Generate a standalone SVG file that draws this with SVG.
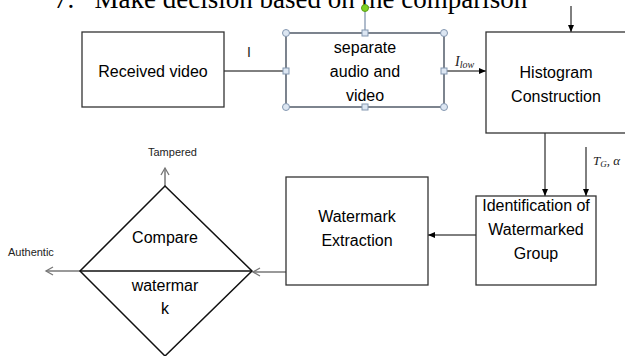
<svg xmlns="http://www.w3.org/2000/svg" width="625" height="356" viewBox="0 0 625 356">
<style>
.box{fill:#fff;stroke:#333;stroke-width:1.3}
.t{font-family:"Liberation Sans",Arial,sans-serif;font-size:16px;fill:#000;text-anchor:middle}
.s{font-family:"Liberation Sans",Arial,sans-serif;font-size:11px;fill:#222}
.c{stroke:#000;stroke-width:1;fill:none}
.g{stroke:#777;stroke-width:1.5;fill:none}
.h{fill:#dce6f2;stroke:#8497b0;stroke-width:1}
</style>
<defs>
<marker id="a" markerWidth="8" markerHeight="8" refX="7" refY="4" orient="auto" markerUnits="userSpaceOnUse"><path d="M0,1 L7,4 L0,7 Z" fill="#000"/></marker>
<marker id="o" markerWidth="10" markerHeight="10" refX="8" refY="5" orient="auto" markerUnits="userSpaceOnUse"><path d="M1,1 L8,5 L1,9" fill="none" stroke="#777" stroke-width="1.3"/></marker>
</defs>
<rect width="625" height="356" fill="#fff"/>
<text x="54" y="8" font-family="Liberation Serif,serif" font-size="27" fill="#000" xml:space="preserve">7.   Make decision based on the comparison</text>
<g id="connectors">
<line class="c" x1="224" y1="71" x2="286" y2="71"/>
<text x="247" y="57" class="s" style="font-size:14px">I</text>
<line class="c" x1="444" y1="71" x2="486" y2="71" marker-end="url(#a)"/>
<text x="455" y="66" font-family="Liberation Serif,serif" font-style="italic" font-size="14" fill="#222">I<tspan font-size="10" dy="2">low</tspan></text>
<line class="c" x1="571" y1="6" x2="571" y2="32" marker-end="url(#a)"/>
<line class="c" x1="545" y1="133" x2="545" y2="196" marker-end="url(#a)"/>
<line class="c" x1="586" y1="147" x2="586" y2="196" marker-end="url(#a)"/>
<text x="593" y="165" font-family="Liberation Serif,serif" font-style="italic" font-size="13" fill="#222">T<tspan font-size="9" dy="2">G</tspan><tspan dy="-2">, α</tspan></text>
<line class="c" x1="476" y1="235" x2="428" y2="235" marker-end="url(#a)"/>
<line class="g" x1="286" y1="272" x2="253" y2="272" marker-end="url(#o)"/>
<line class="g" x1="80" y1="271" x2="46" y2="271" marker-end="url(#o)"/>
<line class="g" x1="165" y1="186" x2="165" y2="168" marker-end="url(#o)"/>
<text x="8" y="256" class="s">Authentic</text>
<text x="148" y="156" class="s">Tampered</text>
</g>
<g id="received">
<rect class="box" x="82" y="32" width="142" height="75"/>
<text class="t" x="153" y="77">Received video</text>
</g>
<g id="separate">
<line x1="365" y1="9" x2="365" y2="33" stroke="#8497b0" stroke-width="1.3"/>
<circle cx="365" cy="8" r="3.5" fill="#7ed321" stroke="#5a9e1a"/>
<rect x="286" y="33" width="158" height="74" fill="#fff" stroke="#8497b0" stroke-width="1.3"/>
<rect x="286" y="33" width="158" height="74" fill="none" stroke="#333" stroke-width="0.8"/>
<circle class="h" cx="286" cy="33" r="3.5"/><circle class="h" cx="444" cy="33" r="3.5"/>
<circle class="h" cx="286" cy="107" r="3.5"/><circle class="h" cx="444" cy="107" r="3.5"/>
<rect class="h" x="362" y="30" width="6" height="6"/><rect class="h" x="362" y="104" width="6" height="6"/>
<rect class="h" x="283" y="68" width="6" height="6"/><rect class="h" x="441" y="68" width="6" height="6"/>
<text class="t" x="365" y="53">separate</text>
<text class="t" x="365" y="77">audio and</text>
<text class="t" x="365" y="101">video</text>
</g>
<g id="histogram">
<rect class="box" x="486" y="32" width="145" height="101"/>
<text class="t" x="556" y="78">Histogram</text>
<text class="t" x="556" y="102">Construction</text>
</g>
<g id="identification">
<rect class="box" x="476" y="196" width="120" height="89"/>
<text class="t" x="536" y="211">Identification of</text>
<text class="t" x="536" y="235">Watermarked</text>
<text class="t" x="536" y="259">Group</text>
</g>
<g id="extraction">
<rect class="box" x="286" y="177" width="142" height="108"/>
<text class="t" x="357" y="222">Watermark</text>
<text class="t" x="357" y="246">Extraction</text>
</g>
<g id="compare">
<path d="M165,186 L252,271 L165,356 L80,271 Z" fill="#fff" stroke="#111" stroke-width="1.5"/>
<line x1="80" y1="271" x2="252" y2="271" stroke="#111" stroke-width="1.5"/>
<text class="t" x="165" y="243">Compare</text>
<text class="t" x="165" y="291">watermar</text>
<text class="t" x="165" y="314">k</text>
</g>
</svg>
